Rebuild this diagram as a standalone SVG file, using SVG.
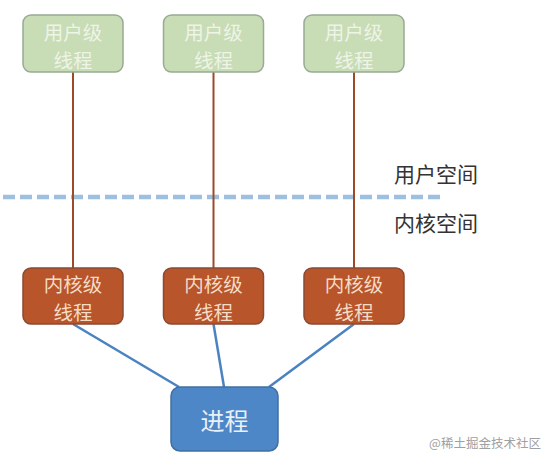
<svg xmlns="http://www.w3.org/2000/svg" width="549" height="461" viewBox="0 0 549 461">
<style>
.t{font-family:"Noto Sans CJK SC","Liberation Sans",sans-serif;text-anchor:middle;dominant-baseline:central}
.u rect{fill:#c8dcb6;stroke:#98ab94;stroke-width:1.5}
.u text{fill:#eef4e6;font-size:19.5px}
.k rect{fill:#b8552a;stroke:#8a4a35;stroke-width:1.5}
.k text{fill:#f6dcc6;font-size:19.5px}
.red{stroke:#9c4a28;stroke-width:2;fill:none}
.blue{stroke:#4a82c2;stroke-width:2.5;fill:none}
</style>
<rect width="549" height="461" fill="#ffffff"/>
<line x1="3" y1="197" x2="442" y2="197" stroke="#9dbfe0" stroke-width="4.5" stroke-dasharray="12 5"/>
<g id="connectors">
<line class="red" x1="73" y1="72" x2="73" y2="268"/>
<line class="red" x1="213.5" y1="72" x2="213.5" y2="268"/>
<line class="red" x1="354" y1="72" x2="354" y2="268"/>
<line class="blue" x1="73" y1="324" x2="179" y2="387"/>
<line class="blue" x1="213.5" y1="324" x2="224" y2="387"/>
<line class="blue" x1="354" y1="324" x2="269" y2="387"/>
</g>
<g id="user1" class="u t"><rect x="23" y="15" width="100" height="57" rx="8"/><text x="73" y="31.5">用户级</text><text x="73" y="59.5">线程</text></g>
<g id="user2" class="u t"><rect x="163.5" y="15" width="100" height="57" rx="8"/><text x="213.5" y="31.5">用户级</text><text x="213.5" y="59.5">线程</text></g>
<g id="user3" class="u t"><rect x="304" y="15" width="100" height="57" rx="8"/><text x="354" y="31.5">用户级</text><text x="354" y="59.5">线程</text></g>
<g id="kernel1" class="k t"><rect x="23" y="268" width="100" height="56" rx="8"/><text x="73" y="283.5">内核级</text><text x="73" y="311.5">线程</text></g>
<g id="kernel2" class="k t"><rect x="163.5" y="268" width="100" height="56" rx="8"/><text x="213.5" y="283.5">内核级</text><text x="213.5" y="311.5">线程</text></g>
<g id="kernel3" class="k t"><rect x="304" y="268" width="100" height="56" rx="8"/><text x="354" y="283.5">内核级</text><text x="354" y="311.5">线程</text></g>
<g id="process" class="t"><rect x="171" y="387" width="107" height="64" rx="9" fill="#4e87c8" stroke="#41709f" stroke-width="1.5"/><text x="224.5" y="419" fill="#e8f0f8" font-size="24px">进程</text></g>
<g id="labels" class="t">
<text x="436" y="173" font-size="21px" fill="#333333">用户空间</text>
<text x="436" y="222" font-size="21px" fill="#333333">内核空间</text>
<text x="485" y="442" font-size="12.5px" fill="#a0a0a0">@稀土掘金技术社区</text>
</g>
</svg>
